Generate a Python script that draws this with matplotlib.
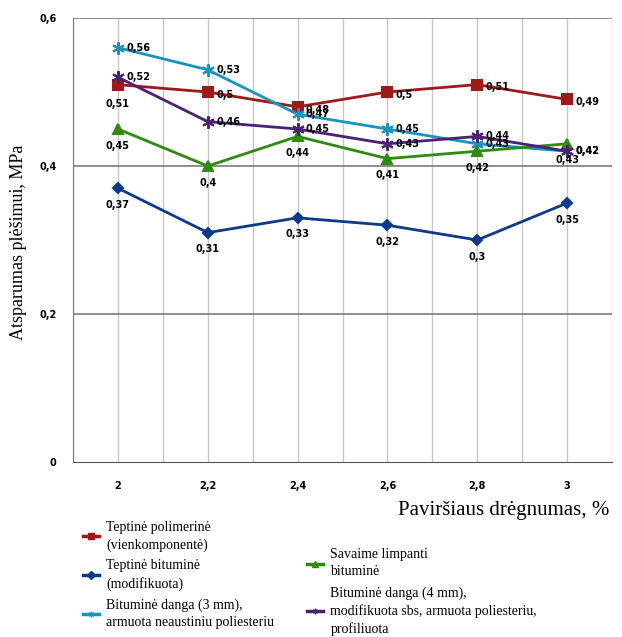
import matplotlib.pyplot as plt
from matplotlib.lines import Line2D

# duomenys
x_labels = ['2', '2,2', '2,4', '2,6', '2,8', '3']
teptine_polimerine = [0.51, 0.5, 0.48, 0.5, 0.51, 0.49]
teptine_bitumine = [0.37, 0.31, 0.33, 0.32, 0.3, 0.35]
danga_3mm = [0.56, 0.53, 0.47, 0.45, 0.43, 0.42]
savaime_limpanti = [0.45, 0.4, 0.44, 0.41, 0.42, 0.43]
danga_4mm = [0.52, 0.46, 0.45, 0.43, 0.44, 0.42]

names = [
    'Teptinė polimerinė\n(vienkomponentė)',
    'Teptinė bituminė\n(modifikuota)',
    'Bituminė danga (3 mm),\narmuota neaustiniu poliesteriu',
    'Savaime limpanti\nbituminė',
    'Bituminė danga (4 mm),\nmodifikuota sbs, armuota poliesteriu,\nprofiliuota',
]

series = [teptine_polimerine, teptine_bitumine, danga_3mm, savaime_limpanti, danga_4mm]
colors = ['#A01818', '#0B3A8C', '#1A93BF', '#2F8A12', '#4A2177']
markers = ['s', 'D', (6, 2, 0), '^', (6, 2, 0)]
msizes = [7, 5, 9, 7, 9]
# kur rašyti reikšmes: (dx, dy) taškais
offsets = [(6, -2), (0, -12), (6, 0), (0, -12), (6, 0)]

fig = plt.figure(figsize=(6.22, 6.37), dpi=100)
ax = fig.add_axes([0.1174, 0.2747, 0.8666, 0.697])

xs = list(range(len(x_labels)))
for k, (vals, c, m, ms, off) in enumerate(zip(series, colors, markers, msizes, offsets)):
    ax.plot(xs, vals, color=c, lw=2, marker=m, ms=ms, mew=1.5, zorder=3 + k * 0.1)
    for i, v in enumerate(vals):
        dx, dy = off
        if k == 0 and i == 0:
            dx, dy = 0, -14
        ha = 'left' if dx > 0 else 'center'
        ax.annotate(f'{v:g}'.replace('.', ','), (i, v), xytext=(dx, dy),
                    textcoords='offset points', ha=ha, va='center',
                    fontsize=7, fontweight='bold', family='DejaVu Sans', zorder=5)

ax.set_xlim(-0.5, 5.5)
ax.set_ylim(0, 0.6)
ax.set_yticks([0, 0.2, 0.4, 0.6])
ax.set_yticklabels(['0', '0,2', '0,4', '0,6'], fontsize=7, fontweight='bold')
ax.set_xticks(xs)
ax.set_xticklabels(x_labels, fontsize=7, fontweight='bold')
ax.tick_params(length=0, pad=14)
ax.tick_params(axis='y', pad=12)

for gx in [i * 0.5 - 0.5 for i in range(13)]:
    ax.axvline(gx, color='#c8c8c8', lw=1, zorder=1)
for gy in [0.2, 0.4, 0.6]:
    ax.axhline(gy, color='#7a7a7a', lw=1.2, zorder=1)

for s in ['top', 'right']:
    ax.spines[s].set_visible(False)
ax.spines['left'].set_color('#7a7a7a')
ax.spines['bottom'].set_color('#555555')

fig.text(0.03, 0.62, 'Atsparumas plėšimui, MPa', family='Liberation Serif', fontsize=13,
         rotation=90, ha='center', va='center')
fig.text(0.98, 0.199, 'Paviršiaus drėgnumas, %', family='Liberation Serif', fontsize=15,
         ha='right', va='center')

def handle(i):
    return Line2D([], [], color=colors[i], lw=2.5, marker=markers[i], ms=4)

legend_style = dict(loc='upper left', frameon=False, borderpad=0,
                    prop={'family': 'Liberation Serif', 'size': 10},
                    handlelength=1.2, labelspacing=0.55, handletextpad=0.5)
leg1 = fig.legend([handle(0), handle(1), handle(2)], names[:3],
                  bbox_to_anchor=(0.122, 0.193), **legend_style)
leg2 = fig.legend([handle(3), handle(4)], names[3:],
                  bbox_to_anchor=(0.482, 0.15), **legend_style)
for leg in (leg1, leg2):
    for t in leg.get_texts():
        t.set_linespacing(1.4)

fig.savefig('out.png', dpi=100)
